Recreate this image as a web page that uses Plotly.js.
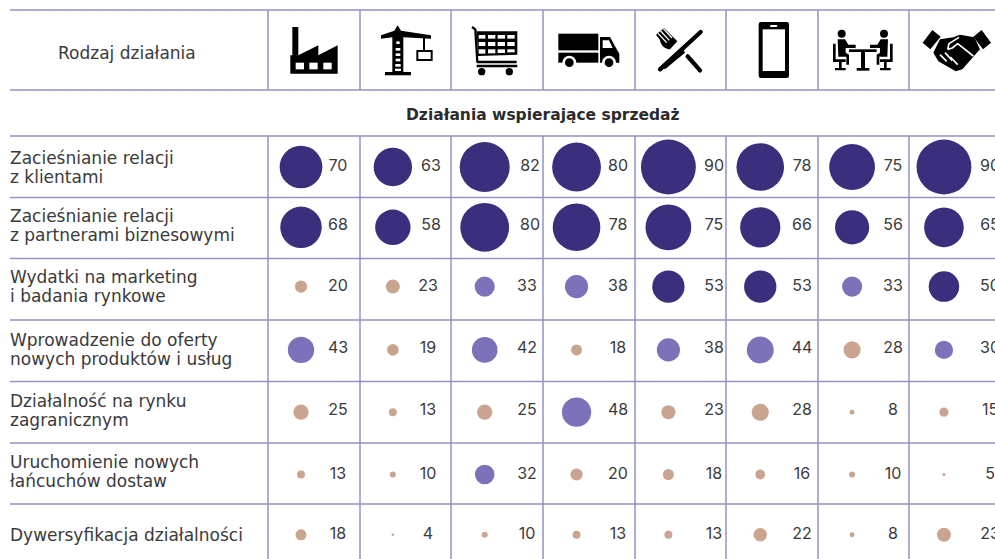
<!DOCTYPE html>
<html><head><meta charset="utf-8">
<script src="https://cdn.plot.ly/plotly-3.0.1.min.js"></script>
<style>html,body{margin:0;padding:0;background:#fff;overflow:hidden}</style>
</head><body><div id="chart" style="width:995px;height:559px"></div>
<script>
// ---- data ----
const rowLabels = [
  "Zacieśnianie relacji<br>z klientami",
  "Zacieśnianie relacji<br>z partnerami biznesowymi",
  "Wydatki na marketing<br>i badania rynkowe",
  "Wprowadzenie do oferty<br>nowych produktów i usług",
  "Działalność na rynku<br>zagranicznym",
  "Uruchomienie nowych<br>łańcuchów dostaw",
  "Dywersyfikacja działalności"
];
const col0 = [70,68,20,43,25,13,18];
const col1 = [63,58,23,19,13,10,4];
const col2 = [82,80,33,42,25,32,10];
const col3 = [80,78,38,18,48,20,13];
const col4 = [90,75,53,38,23,18,13];
const col5 = [78,66,53,44,28,16,22];
const col6 = [75,56,33,28,8,10,8];
const col7 = [90,65,50,30,15,5,23];
const columns = [col0,col1,col2,col3,col4,col5,col6,col7];
const headerLabel = "Rodzaj działania";
const sectionLabel = "Działania wspierające sprzedaż";

// ---- styles / layout constants ----
const W=995,H=559, colStep=91.85, col0Px=301, rowStep=61.3, row0Px=167;
const DARK="#3a2f7c", MID="#7b72ba", TAN="#c9a48f", LINE="#9692c4", TXT="#3a3a3a";
const FONT="Inter, sans-serif", LABELFONT="DejaVu Sans, sans-serif";
const labelPx=[338,428,527,618,714,802,893,990];
const markNudge=[0,-1,-3,-1,0,1,0];
const valueNudge=[0,-2,-3,-2,-1,1,0];
const labelNudge=[0,-2.5,-3.5,-1,-2,-2.5,0];
const vLines=[268,360,451,543,635,726,818,909];
const hLines=[10,90,136,197.5,258.5,320,381.5,443,504];
const colour=v=>v>=50?DARK:(v>=30?MID:TAN);

// ---- icons, drawn in 3x page units ----
const icons=[
 {px:275,vb:"0 0 255 228",g:`<path d="M52 45H70V130L130 100V130L188 100V185H46V130H52Z"/><g fill="#fff"><rect x="62" y="152" width="25" height="20"/><rect x="103" y="152" width="25" height="20"/><rect x="145" y="152" width="25" height="20"/></g>`},
 {px:360,vb:"255 0 255 228",g:`<path d="M368 40L378 56L468 70V80L385 76V180H408V190H330V180H352V76L318 80V70L358 56Z"/><g fill="#fff"><rect x="362" y="108" width="14" height="8"/><rect x="362" y="124" width="14" height="8"/><rect x="362" y="140" width="14" height="8"/><rect x="361" y="156" width="16" height="8"/><rect x="360" y="170" width="18" height="7"/><rect x="364" y="88" width="10" height="8"/></g><rect x="444" y="76" width="6" height="40"/><rect x="427" y="117" width="43" height="27" fill="#fff" stroke="#000" stroke-width="6"/>`},
 {px:460,vb:"0 0 255 228",g:`<path d="M36 45L46 52L52 150H170" fill="none" stroke="#000" stroke-width="7" stroke-linejoin="round"/><path d="M50 58H172V128L54 132Z"/><g fill="#fff"><rect x="56" y="69" width="20" height="11"/><rect x="84" y="69" width="22" height="11"/><rect x="113" y="69" width="22" height="11"/><rect x="142" y="69" width="22" height="11"/><rect x="56" y="90" width="20" height="12"/><rect x="84" y="90" width="22" height="12"/><rect x="113" y="90" width="22" height="12"/><rect x="142" y="90" width="22" height="12"/><rect x="56" y="112" width="20" height="13"/><rect x="84" y="112" width="22" height="12"/><rect x="113" y="112" width="22" height="11"/><rect x="142" y="112" width="22" height="9"/></g><path d="M50 158H172V166H50Z"/><circle cx="65" cy="179" r="11"/><circle cx="148" cy="179" r="11"/>`},
 {px:545,vb:"255 0 255 228",g:`<rect x="295" y="65" width="120" height="50"/><rect x="295" y="122" width="120" height="30"/><path d="M420 75H450L468 108L478 125V152H420Z"/><path d="M428 85H447L458 108H428Z" fill="#fff"/><circle cx="328" cy="152" r="21" fill="#fff"/><circle cx="328" cy="152" r="13"/><circle cx="447" cy="152" r="21" fill="#fff"/><circle cx="447" cy="152" r="13"/>`},
 {px:640,vb:"0 0 255 228",g:`<path d="M182 60L60 172" stroke="#000" stroke-width="13" stroke-linecap="round" fill="none"/><path d="M66 165L130 110L135 122L75 172Z"/><path d="M143 133L180 175" stroke="#000" stroke-width="13" stroke-linecap="round" fill="none"/><path d="M48 68L72 48L112 88L90 112C75 112 62 100 60 84Z"/><g stroke="#fff" stroke-width="4"><path d="M54 64L80 92"/><path d="M62 57L88 85"/><path d="M70 50L96 78"/></g>`},
 {px:725,vb:"255 0 255 228",g:`<rect x="356" y="30" width="91" height="168" rx="7"/><rect x="368" y="52" width="67" height="125" fill="#fff"/><rect x="390" y="39" width="22" height="6" rx="3" fill="#fff"/>`},
 {px:825,vb:"0 0 255 228",g:`<circle cx="50" cy="65" r="12"/><circle cx="177" cy="65" r="12"/><path d="M38 82H60L70 98H92V108H62V122L72 128V158H64V134H40Z"/><path d="M189 82H167L157 98H135V108H165V122L155 128V158H163V134H187Z"/><rect x="72" y="112" width="83" height="8"/><rect x="108" y="120" width="12" height="50"/><rect x="95" y="168" width="38" height="8"/><path d="M24 95H32V142H62V150H50V168H62V175H30V168H42V150H24Z"/><path d="M203 95H195V142H165V150H177V168H165V175H197V168H185V150H203Z"/>`},
 {px:910,vb:"255 0 255 228",g:`<path d="M293 92L322 54L347 74L316 112Z"/><path d="M498 92L470 54L445 74L474 112Z"/><path d="M345 82L385 76L405 68L448 76L465 112L412 172L392 178L340 148L325 122Z"/><g fill="none" stroke="#fff" stroke-width="5" stroke-linejoin="round"><path d="M368 112L372 95L402 76"/><path d="M368 112L382 108L398 95L445 132"/><path d="M345 128L365 148"/><path d="M360 122L382 146"/><path d="M376 135L398 158"/></g>`}
];
const svgUri=ic=>"data:image/svg+xml;charset=utf-8,"+encodeURIComponent(
 `<svg xmlns="http://www.w3.org/2000/svg" width="85" height="76" viewBox="${ic.vb}">${ic.g}</svg>`);

// ---- marks ----
const xs=[],ys=[],vals=[],cols=[],tx=[],ty=[],tt=[];
columns.forEach((c,i)=>c.forEach((v,r)=>{
  xs.push(i);ys.push(r+markNudge[r]/rowStep);vals.push(v);cols.push(colour(v));
  const nudge=(r<2&&(i===1||i===2))?3:0;
  tx.push((labelPx[i]+nudge-col0Px)/colStep);ty.push(r+valueNudge[r]/rowStep);tt.push(String(v));
}));
const traces=[
 {type:"scatter",mode:"markers",x:xs,y:ys,hoverinfo:"skip",
  marker:{size:vals,sizemode:"diameter",sizeref:1/0.61,color:cols,line:{width:0},opacity:1}},
 {type:"scatter",mode:"text",x:tx,y:ty,text:tt,textposition:"middle center",hoverinfo:"skip",
  cliponaxis:true,textfont:{family:FONT,size:16,color:TXT}}
];
const px2x=p=>p/W, py2y=p=>1-p/H;
const shapes=[];
hLines.forEach(y=>shapes.push({type:"line",xref:"paper",yref:"paper",x0:px2x(10),x1:1,y0:py2y(y),y1:py2y(y),layer:"below",line:{color:LINE,width:1.5}}));
vLines.forEach(x=>{
  shapes.push({type:"line",xref:"paper",yref:"paper",x0:px2x(x),x1:px2x(x),y0:py2y(10),y1:py2y(90),layer:"below",line:{color:LINE,width:1.5}});
  shapes.push({type:"line",xref:"paper",yref:"paper",x0:px2x(x),x1:px2x(x),y0:py2y(136),y1:0,layer:"below",line:{color:LINE,width:1.5}});
});
const ann=[];
rowLabels.forEach((t,r)=>{
  const lines=t.split("<br>");
  lines.forEach((ln,k)=>{
    const off=lines.length===1?0:(k===0?-9.5:9.5);
    ann.push({xref:"paper",yref:"y",x:px2x(7.5),y:r+(labelNudge[r]+off)/rowStep,text:ln,showarrow:false,xanchor:"left",yanchor:"middle",align:"left",font:{family:LABELFONT,size:17,color:TXT}});
  });
});
ann.push({xref:"paper",yref:"paper",x:px2x(127),y:py2y(53),text:headerLabel,showarrow:false,xanchor:"center",yanchor:"middle",font:{family:LABELFONT,size:17,color:TXT}});
ann.push({xref:"paper",yref:"paper",x:px2x(543),y:py2y(115),text:"<b>"+sectionLabel+"</b>",showarrow:false,xanchor:"center",yanchor:"middle",font:{family:LABELFONT,size:15.5,color:"#2b2b2b"}});
const images=icons.map(ic=>({source:svgUri(ic),xref:"paper",yref:"paper",x:px2x(ic.px),y:py2y(12),sizex:85/W,sizey:76/H,xanchor:"left",yanchor:"top",sizing:"stretch",layer:"above"}));
const layout={
 width:W,height:H,margin:{l:0,r:0,t:0,b:0},paper_bgcolor:"#fff",plot_bgcolor:"#fff",showlegend:false,
 xaxis:{range:[-col0Px/colStep,(W-col0Px)/colStep],visible:false,fixedrange:true},
 yaxis:{range:[(H-row0Px)/rowStep,-row0Px/rowStep],visible:false,fixedrange:true},
 shapes,annotations:ann,images
};
Plotly.newPlot("chart",traces,layout,{displayModeBar:false,staticPlot:true});
</script></body></html>
